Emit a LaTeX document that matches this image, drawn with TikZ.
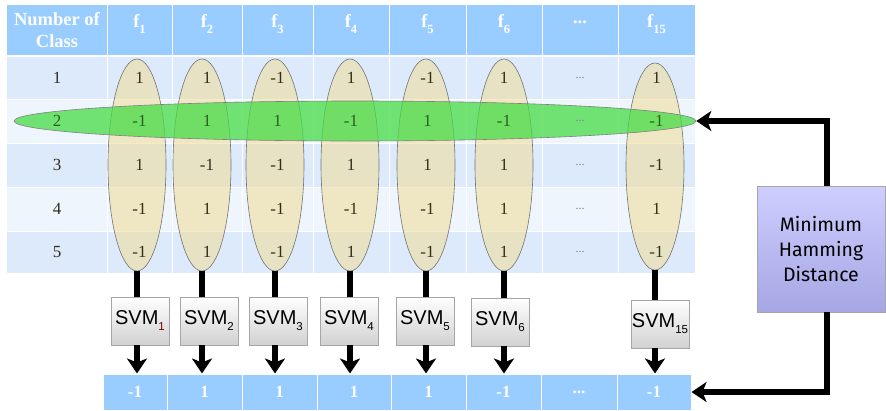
\documentclass[tikz,border=0pt]{standalone}
\usepackage{fontspec}
\setmainfont{Liberation Serif}
\newfontfamily\svmfont{Liberation Sans}
\newfontfamily\handfont{Fira Sans}
\usetikzlibrary{shapes.geometric,arrows.meta,shadings,shadows}

\definecolor{hdr}{RGB}{153,204,255}
\definecolor{rowA}{RGB}{220,234,251}
\definecolor{rowB}{RGB}{238,245,253}
\definecolor{tanfill}{RGB}{240,220,150}
\definecolor{grnfill}{RGB}{70,220,70}
\definecolor{lavtop}{RGB}{206,206,255}
\definecolor{lavbot}{RGB}{166,166,228}
\definecolor{valtext}{RGB}{50,45,25}
\definecolor{grntext}{RGB}{35,100,25}

% lowered small index
\newcommand\idx[2]{\raisebox{-0.3em}{\fontsize{#1}{#1}\selectfont #2}}

\tikzset{
  hdrtext/.style={text=white, font=\fontsize{18.5}{22}\selectfont\bfseries, align=center},
  valtext/.style={text=valtext, font=\fontsize{17}{17}\selectfont},
  dotstext/.style={text=gray, font=\fontsize{12}{12}\selectfont},
  colring/.style={ellipse, draw=black!55, line width=0.6pt, fill=tanfill, fill opacity=0.55,
                  minimum width=58pt, inner sep=0pt},
  rowring/.style={ellipse, draw=black!50, line width=0.6pt, fill=grnfill, fill opacity=0.75,
                  minimum width=682pt, minimum height=40pt, inner sep=0pt},
  svmbox/.style={rectangle, draw=black!35, line width=0.5pt, top color=white, bottom color=black!18,
                 minimum width=58pt, minimum height=48pt, inner sep=0pt,
                 drop shadow={shadow xshift=1pt, shadow yshift=-1pt, opacity=0.25},
                 font=\svmfont\fontsize{20}{20}\selectfont},
  outcell/.style={rectangle, fill=hdr, draw=white, line width=1pt, minimum height=36pt,
                  inner sep=0pt, text=white, font=\fontsize{17}{17}\selectfont\bfseries},
  hambox/.style={rectangle, draw=black!35, line width=0.5pt, top color=lavtop, bottom color=lavbot,
                 minimum width=128pt, minimum height=126pt, inner sep=0pt, align=center,
                 drop shadow={shadow xshift=1pt, shadow yshift=-1pt, opacity=0.25},
                 font=\handfont\fontsize{19.5}{25}\selectfont},
  stem/.style={line width=5.5pt, black},
  flow/.style={line width=5.5pt, black, -{Stealth[length=15pt,width=20pt,inset=4pt]}},
}

\begin{document}
\begin{tikzpicture}[x=1pt,y=-1pt]
\useasboundingbox (0,0) rectangle (886,410);

% table background
\fill[hdr]  (7,5)   rectangle (695,55);
\fill[rowA] (7,57)  rectangle (695,99);
\fill[rowB] (7,99)  rectangle (695,143);
\fill[rowA] (7,143) rectangle (695,187);
\fill[rowB] (7,187) rectangle (695,231);
\fill[rowA] (7,231) rectangle (695,273);
\foreach \y in {99,143,187,231}
  \draw[white, line width=0.6pt] (7,\y) -- (695,\y);
\foreach \x in {107,172,242,313,389,466,542,618}
  \draw[white, line width=1pt] (\x,5) -- (\x,273);

% header
\node[hdrtext] (h0) at (57,30) {Number of\\Class};
\node[hdrtext] (h1) at (139.5,24) {f\idx{12.5}{1}};
\node[hdrtext] (h2) at (207,24) {f\idx{12.5}{2}};
\node[hdrtext] (h3) at (277.5,24) {f\idx{12.5}{3}};
\node[hdrtext] (h4) at (351,24) {f\idx{12.5}{4}};
\node[hdrtext] (h5) at (427.5,24) {f\idx{12.5}{5}};
\node[hdrtext] (h6) at (504,24) {f\idx{12.5}{6}};
\node[hdrtext] (h7) at (580,22) {...};
\node[hdrtext] (h8) at (656.5,24) {f\idx{12.5}{15}};

% column rings
\node[colring, minimum height=212pt] (e1)  at (137,165) {};
\node[colring, minimum height=212pt] (e2)  at (202,165) {};
\node[colring, minimum height=212pt] (e3)  at (275,165) {};
\node[colring, minimum height=212pt] (e4)  at (350,165) {};
\node[colring, minimum height=212pt] (e5)  at (426,165) {};
\node[colring, minimum height=212pt] (e6)  at (504,165) {};
\node[colring, minimum height=207pt] (e15) at (655,166.5) {};

% row ring for class 2
\node[rowring] (g) at (355,121) {};

% class numbers and code words
\foreach \r/\y/\a/\b/\c/\d/\e/\f/\g/\tc in {
    1/78/1/1/-1/1/-1/1/1/valtext,
    2/121/-1/1/1/-1/1/-1/-1/grntext,
    3/165/1/-1/-1/1/1/1/-1/valtext,
    4/209/-1/1/-1/-1/-1/1/1/valtext,
    5/252/-1/1/-1/1/-1/1/-1/valtext}{
  \node[valtext, text=\tc] (c\r) at (57,\y) {\r};
  \node[valtext, text=\tc] (v\r a) at (139.5,\y) {\a};
  \node[valtext, text=\tc] (v\r b) at (207,\y) {\b};
  \node[valtext, text=\tc] (v\r c) at (277.5,\y) {\c};
  \node[valtext, text=\tc] (v\r d) at (351,\y) {\d};
  \node[valtext, text=\tc] (v\r e) at (427.5,\y) {\e};
  \node[valtext, text=\tc] (v\r f) at (504,\y) {\f};
  \node[dotstext] (v\r x) at (580,\y) {...};
  \node[valtext, text=\tc] (v\r g) at (656.5,\y) {\g};
}

% classifiers
\node[svmbox] (s1)  at (140,321) {SVM\idx{11.5}{\color{red!45!black}1}};
\node[svmbox] (s2)  at (209,321) {SVM\idx{11.5}{2}};
\node[svmbox] (s3)  at (278,321) {SVM\idx{11.5}{3}};
\node[svmbox] (s4)  at (349,321) {SVM\idx{11.5}{4}};
\node[svmbox] (s5)  at (425,321) {SVM\idx{11.5}{5}};
\node[svmbox] (s6)  at (500,322) {SVM\idx{11.5}{6}};
\node[svmbox] (s15) at (660,324) {SVM\idx{11.5}{15}};

% output code word
\node[outcell, minimum width=64pt] (o1) at (135,392) {-1};
\node[outcell, minimum width=75pt] (o2) at (204.5,392) {1};
\node[outcell, minimum width=75pt] (o3) at (279.5,392) {1};
\node[outcell, minimum width=74pt] (o4) at (354,392) {1};
\node[outcell, minimum width=75pt] (o5) at (428.5,392) {1};
\node[outcell, minimum width=75pt] (o6) at (503.5,392) {-1};
\node[outcell, minimum width=76pt] (o7) at (579,392) {...};
\node[outcell, minimum width=74pt] (o8) at (654,392) {-1};

% decoder
\node[hambox] (ham) at (821,249) {Minimum\\Hamming\\Distance};

% stems and arrows
\foreach \e/\s/\o in {e1/s1/o1, e2/s2/o2, e3/s3/o3, e4/s4/o4, e5/s5/o5, e6/s6/o6, e15/s15/o8}{
  \draw[stem] (\e.south) -- (\e.south |- \s.north);
  \draw[flow] (\e.south |- \s.south) -- (\e.south |- \o.north);
}
\draw[flow] ([xshift=6pt]ham.north) |- (g.east);
\draw[flow] ([xshift=6pt]ham.south) |- (o8.east);
\end{tikzpicture}
\end{document}
